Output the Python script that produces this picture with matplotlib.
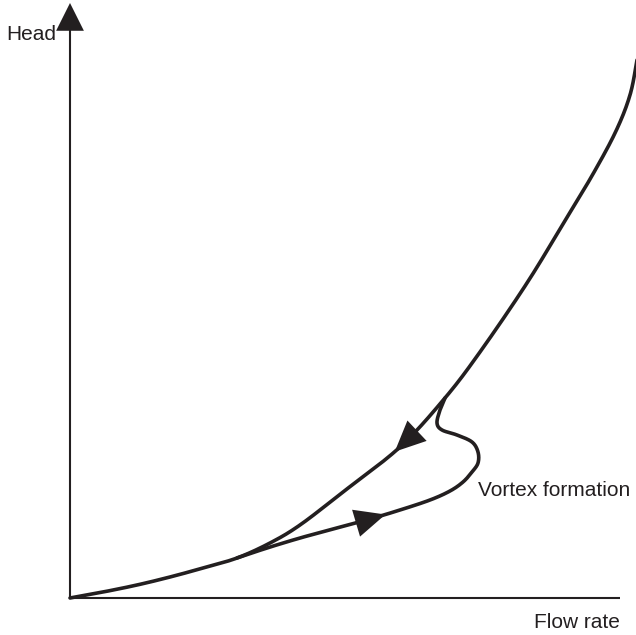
import numpy as np
import matplotlib.pyplot as plt

# pump characteristic, flow rate vs head (arbitrary units, origin at 0,0)
flow_main = [0, 33, 67, 100, 133, 167, 200, 230, 273, 330, 375, 410, 457, 496, 523, 546, 560, 567, 571]
head_main = [0, 6, 13, 21, 30, 40, 55, 73, 106, 151, 200, 246, 315, 379, 424, 467, 503, 538, 562]

# vortex branch, leaves the main curve and rejoins it near the bottom
flow_vortex = [375, 370, 367, 372, 387, 402, 408, 408, 402, 393, 380, 360, 330, 300, 263, 230, 197, 167]
head_vortex = [200, 188, 175, 168, 163, 156, 146, 135, 126, 116, 107, 98, 88, 79, 69, 60, 50, 40]

# where the direction arrowheads sit
arrow_down_flow = 323
arrow_up_flow = 315

INK = '#231f20'
FONT = ['Liberation Sans', 'DejaVu Sans']


def catmull(xs, ys, n=20):
    # smooth Catmull-Rom pass through the given points
    p = np.column_stack([xs, ys]).astype(float)
    p = np.vstack([p[0], p, p[-1]])
    out = []
    for i in range(1, len(p) - 2):
        p0, p1, p2, p3 = p[i - 1], p[i], p[i + 1], p[i + 2]
        for t in np.linspace(0, 1, n, endpoint=False):
            t2, t3 = t * t, t * t * t
            out.append(0.5 * ((2 * p1) + (-p0 + p2) * t +
                              (2 * p0 - 5 * p1 + 4 * p2 - p3) * t2 +
                              (-p0 + 3 * p1 - 3 * p2 + p3) * t3))
    out.append(p[-2])
    out = np.array(out)
    return out[:, 0], out[:, 1]


def head_arrow(ax, tip, tail, hl=1.0, hw=0.45, scale=20):
    ax.annotate('', xy=tip, xytext=tail,
                arrowprops=dict(arrowstyle=f'-|>,head_length={hl},head_width={hw}',
                                color=INK, lw=0, mutation_scale=scale,
                                shrinkA=0, shrinkB=0))


fig = plt.figure(figsize=(6.36, 6.35), dpi=100)
ax = fig.add_axes([0, 0, 1, 1])
ax.set_xlim(-70, 566)
ax.set_ylim(-37, 598)
ax.axis('off')

# axes with arrow ends
ax.plot([0, 0], [0, 580], color=INK, lw=1.5, solid_capstyle='butt')
ax.plot([0, 550], [0, 0], color=INK, lw=1.5, solid_capstyle='butt')
head_arrow(ax, (0, 595), (0, 570), hl=1.0, hw=0.5)
head_arrow(ax, (567, 0), (540, 0), hl=0.85, hw=0.55)

mx, my = catmull(flow_main, head_main)
vx, vy = catmull(flow_vortex, head_vortex)
ax.plot(mx, my, color=INK, lw=2.6, solid_capstyle='round')
ax.plot(vx, vy, color=INK, lw=2.6, solid_capstyle='round', solid_joinstyle='round')

# falling along the main curve
j = np.searchsorted(mx, arrow_down_flow)
head_arrow(ax, (mx[j], my[j]), (mx[j + 6], my[j + 6]), hl=1.05, hw=0.48, scale=21)

# rising along the vortex branch (lower leg, flow increasing)
low = np.where(vy < 100)[0]
k = low[np.argmin(np.abs(vx[low] - arrow_up_flow))]
head_arrow(ax, (vx[k], vy[k]), (vx[k + 6], vy[k + 6]), hl=1.05, hw=0.48, scale=21)

ax.text(-39, 564, 'Head', ha='center', va='center', fontsize=15, family=FONT, color=INK)
ax.text(507, -24, 'Flow rate', ha='center', va='center', fontsize=15, family=FONT, color=INK)
ax.text(408, 107, 'Vortex formation', ha='left', va='center', fontsize=15, family=FONT, color=INK)

fig.savefig('out.png', dpi=100)
